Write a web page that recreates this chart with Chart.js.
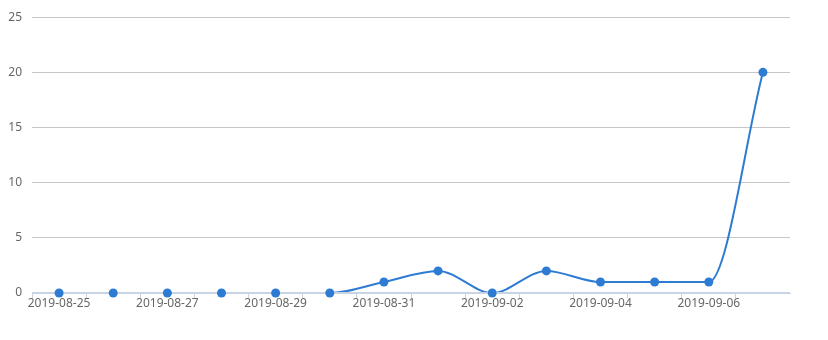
<!DOCTYPE html>
<html>
<head>
<meta charset="utf-8">
<script src="https://cdn.jsdelivr.net/npm/chart.js@4"></script>
<style>
  html, body { margin: 0; padding: 0; background: #fff; }
  #wrap { width: 828px; height: 340px; }
</style>
</head>
<body>
<div id="wrap"><canvas id="lineChart" width="828" height="340"></canvas></div>
<script>
// dates on the x axis
var dates = ['2019-08-25', '2019-08-26', '2019-08-27', '2019-08-28', '2019-08-29',
  '2019-08-30', '2019-08-31', '2019-09-01', '2019-09-02', '2019-09-03',
  '2019-09-04', '2019-09-05', '2019-09-06', '2019-09-07'];
// daily counts
var counts = [0, 0, 0, 0, 0, 0, 1, 2, 0, 2, 1, 1, 1, 20];
var yTicks = [0, 5, 10, 15, 20, 25];

var blue = '#2d7bd3';
var axisColor = '#c8d3e3';

// axis line goes over the curve but under the markers
var axisOverLine = {
  id: 'axisOverLine',
  afterDatasetDraw: function (chart, args) {
    if (args.index !== 0) return;
    var a = chart.chartArea, c = chart.ctx;
    c.save();
    c.strokeStyle = axisColor;
    c.lineWidth = 2;
    c.beginPath();
    c.moveTo(a.left, a.bottom);
    c.lineTo(a.right, a.bottom);
    c.stroke();
    c.restore();
  }
};

var ctx = document.getElementById('lineChart').getContext('2d');
var myChart = new Chart(ctx, {
  type: 'line',
  data: {
    labels: dates,
    datasets: [{
      label: 'line',
      data: counts,
      borderColor: blue,
      borderWidth: 2,
      pointRadius: 0,
      cubicInterpolationMode: 'monotone',
      order: 2
    }, {
      label: 'points',
      data: counts,
      showLine: false,
      backgroundColor: blue,
      pointRadius: 4.5,
      pointBackgroundColor: blue,
      pointBorderWidth: 0,
      clip: false,
      order: 1
    }]
  },
  plugins: [axisOverLine],
  options: {
    responsive: false,
    animation: false,
    layout: { padding: { top: 15, right: 38, bottom: 0, left: 0 } },
    plugins: { legend: { display: false }, tooltip: { enabled: false } },
    scales: {
      x: {
        offset: true,
        grid: {
          offset: true,
          drawOnChartArea: false,
          drawTicks: true,
          tickLength: 5,
          // no tick mark at the far right end
          color: function (c) { return c.type === 'tick' ? axisColor : 'rgba(0,0,0,0)'; }
        },
        border: { color: axisColor },
        ticks: {
          autoSkip: false,
          maxRotation: 0,
          padding: -2,
          color: '#666',
          font: { family: 'Noto Sans', size: 12 },
          callback: function (v, i) { return i % 2 === 0 ? dates[i] : ''; }
        },
        afterFit: function (s) { s.height = 47; }
      },
      y: {
        min: 0,
        max: 25,
        afterBuildTicks: function (s) { s.ticks = yTicks.map(function (v) { return { value: v }; }); },
        grid: { color: '#c6c6c6', drawTicks: false },
        border: { display: false },
        ticks: {
          padding: 10,
          color: '#666',
          font: { family: 'Noto Sans', size: 12 }
        },
        afterFit: function (s) { s.width = 32; }
      }
    }
  }
});
</script>
</body>
</html>
